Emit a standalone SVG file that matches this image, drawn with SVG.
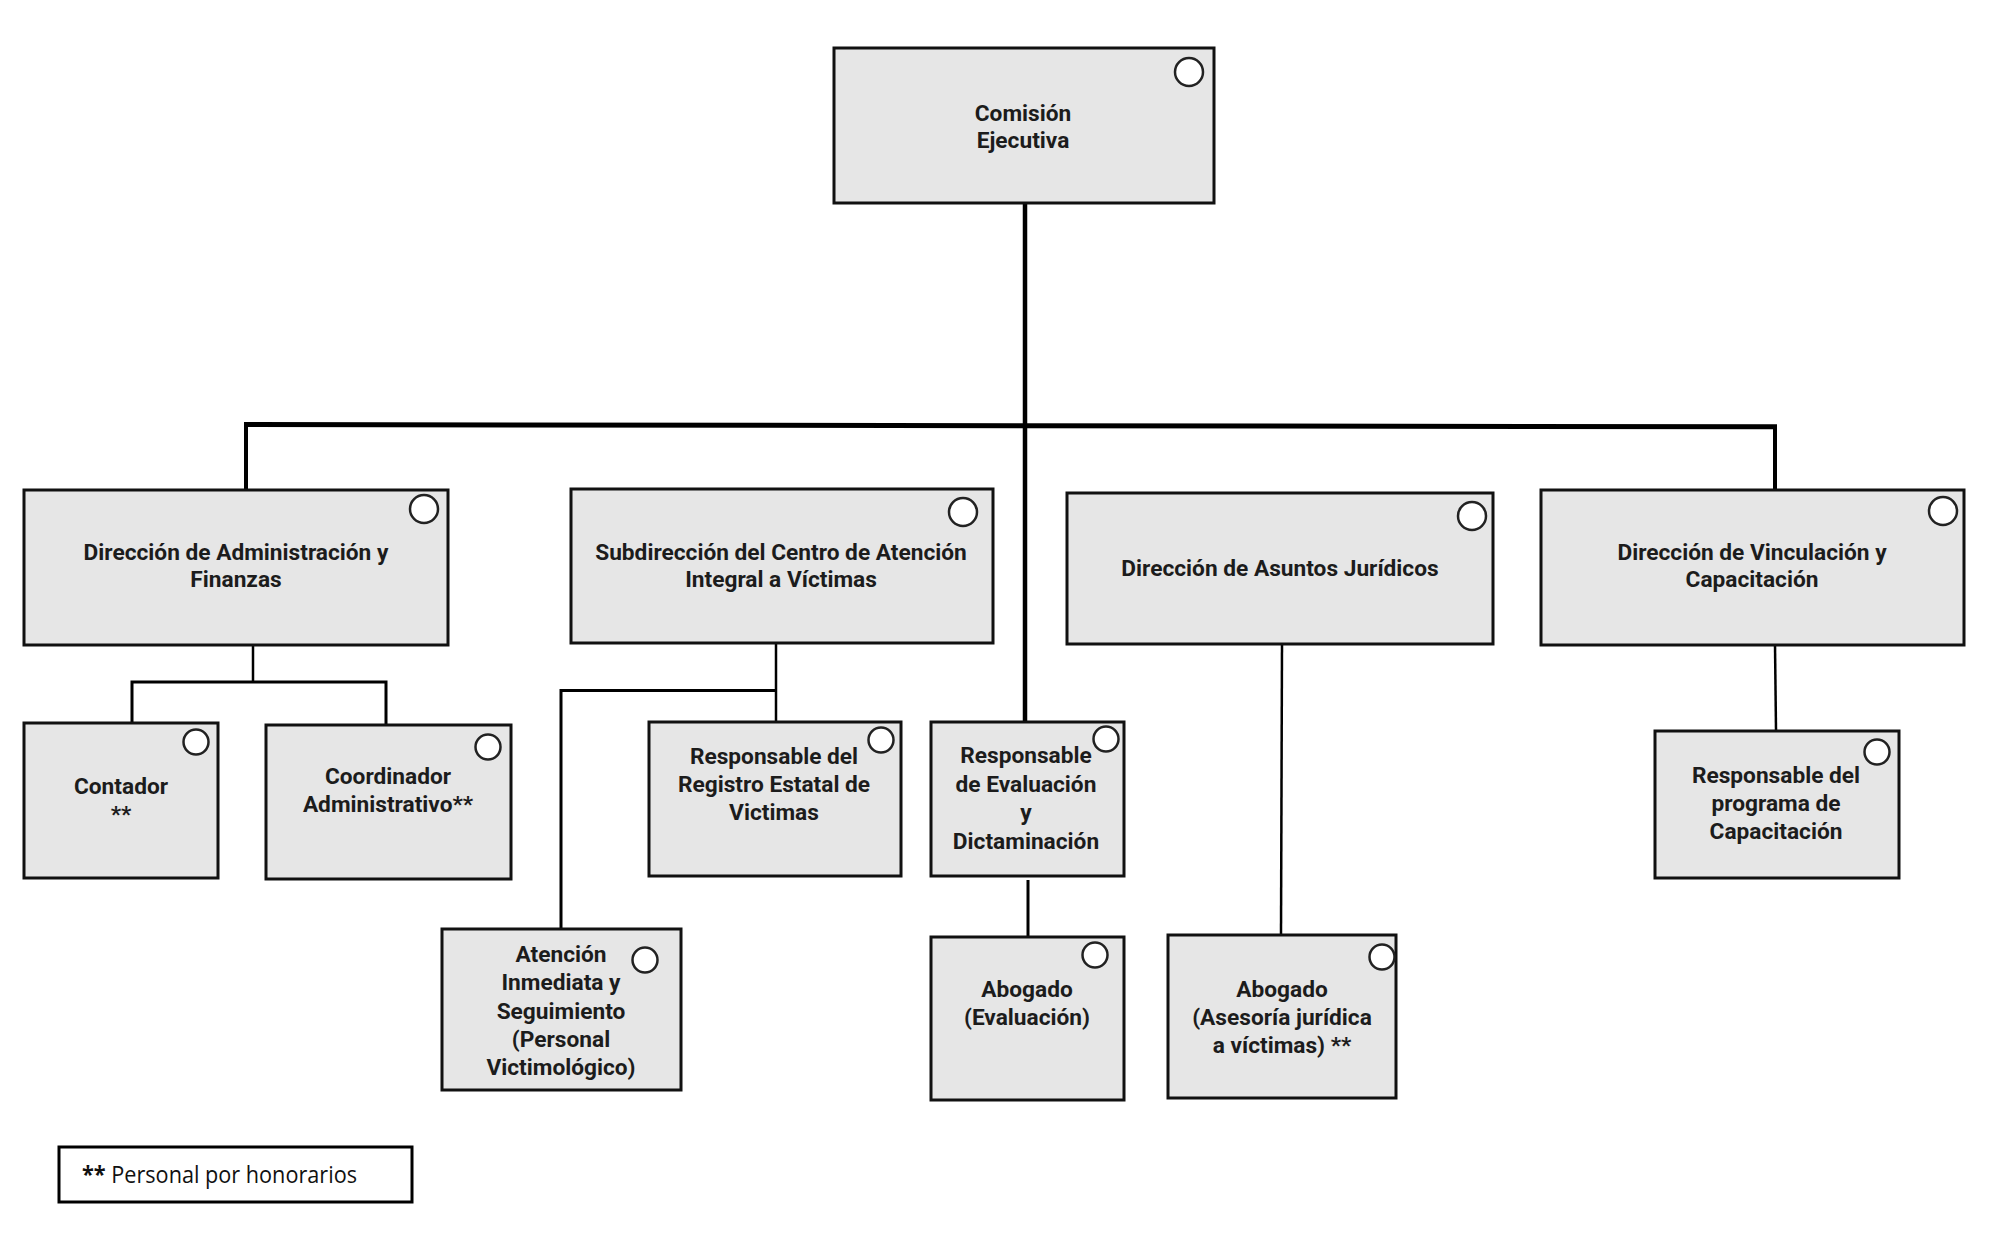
<svg xmlns="http://www.w3.org/2000/svg" width="1998" height="1236" viewBox="0 0 1998 1236">
<style>
.box{fill:#e6e6e6;stroke:#111;stroke-width:3}
.dot{fill:#fff;stroke:#222;stroke-width:2.5}
.t{font-family:Roboto,"Liberation Sans",sans-serif;font-weight:bold;font-size:22.7px;fill:#1c1c1c;text-anchor:middle}
.c{fill:none;stroke:#000;stroke-linecap:butt}
</style>
<rect width="1998" height="1236" fill="#fff"/>
<g id="connectors">
<line class="c" x1="1025" y1="203" x2="1025" y2="722" stroke-width="4.5"/>
<line class="c" x1="244" y1="424.5" x2="1777" y2="426.8" stroke-width="5"/>
<line class="c" x1="246" y1="424" x2="246" y2="489" stroke-width="4"/>
<line class="c" x1="1775" y1="426" x2="1775" y2="490" stroke-width="4"/>
<line class="c" x1="253" y1="645" x2="253" y2="682" stroke-width="2.5"/>
<polyline class="c" points="132,723 132,682 386,682 386,724" stroke-width="3"/>
<line class="c" x1="776" y1="643" x2="776" y2="722" stroke-width="2.5"/>
<polyline class="c" points="561,928 561,690.5 775,690.5" stroke-width="3"/>
<line class="c" x1="1028" y1="880" x2="1028" y2="937" stroke-width="3"/>
<line class="c" x1="1282" y1="644" x2="1281" y2="934" stroke-width="2.5"/>
<line class="c" x1="1775" y1="645" x2="1776" y2="730" stroke-width="2.5"/>
</g>
<g id="comision">
<rect class="box" x="834" y="48" width="380" height="155"/>
<circle class="dot" cx="1189" cy="72" r="14"/>
<text class="t" x="1023" y="121">Comisión</text>
<text class="t" x="1023" y="148">Ejecutiva</text>
</g>
<g id="dir-admin">
<rect class="box" x="24" y="490" width="424" height="155"/>
<circle class="dot" cx="424" cy="509" r="14"/>
<text class="t" x="236" y="560">Dirección de Administración y</text>
<text class="t" x="236" y="587">Finanzas</text>
</g>
<g id="subdir">
<rect class="box" x="571" y="489" width="422" height="154"/>
<circle class="dot" cx="963" cy="512" r="14"/>
<text class="t" x="781" y="560">Subdirección del Centro de Atención</text>
<text class="t" x="781" y="587">Integral a Víctimas</text>
</g>
<g id="dir-juridicos">
<rect class="box" x="1067" y="493" width="426" height="151"/>
<circle class="dot" cx="1472" cy="516" r="14"/>
<text class="t" x="1280" y="576">Dirección de Asuntos Jurídicos</text>
</g>
<g id="dir-vinculacion">
<rect class="box" x="1541" y="490" width="423" height="155"/>
<circle class="dot" cx="1943" cy="511" r="14"/>
<text class="t" x="1752" y="560">Dirección de Vinculación y</text>
<text class="t" x="1752" y="587">Capacitación</text>
</g>
<g id="contador">
<rect class="box" x="24" y="723" width="194" height="155"/>
<circle class="dot" cx="196" cy="742" r="12.5"/>
<text class="t" x="121" y="794">Contador</text>
<text class="t" x="121" y="822">**</text>
</g>
<g id="coordinador">
<rect class="box" x="266" y="725" width="245" height="154"/>
<circle class="dot" cx="488" cy="747" r="12.5"/>
<text class="t" x="388" y="784">Coordinador</text>
<text class="t" x="388" y="812">Administrativo**</text>
</g>
<g id="registro">
<rect class="box" x="649" y="722" width="252" height="154"/>
<circle class="dot" cx="881" cy="740" r="12.5"/>
<text class="t" x="774" y="764">Responsable del</text>
<text class="t" x="774" y="792">Registro Estatal de</text>
<text class="t" x="774" y="820">Victimas</text>
</g>
<g id="evaluacion">
<rect class="box" x="931" y="722" width="193" height="154"/>
<circle class="dot" cx="1106" cy="739" r="12.5"/>
<text class="t" x="1026" y="763">Responsable</text>
<text class="t" x="1026" y="792">de Evaluación</text>
<text class="t" x="1026" y="820">y</text>
<text class="t" x="1026" y="849">Dictaminación</text>
</g>
<g id="capacitacion">
<rect class="box" x="1655" y="731" width="244" height="147"/>
<circle class="dot" cx="1877" cy="752" r="12.5"/>
<text class="t" x="1776" y="783">Responsable del</text>
<text class="t" x="1776" y="811">programa de</text>
<text class="t" x="1776" y="839">Capacitación</text>
</g>
<g id="atencion">
<rect class="box" x="442" y="929" width="239" height="161"/>
<circle class="dot" cx="645" cy="960" r="12.5"/>
<text class="t" x="561" y="962">Atención</text>
<text class="t" x="561" y="990">Inmediata y</text>
<text class="t" x="561" y="1019">Seguimiento</text>
<text class="t" x="561" y="1047">(Personal</text>
<text class="t" x="561" y="1075">Victimológico)</text>
</g>
<g id="abogado-evaluacion">
<rect class="box" x="931" y="937" width="193" height="163"/>
<circle class="dot" cx="1095" cy="955" r="12.5"/>
<text class="t" x="1027" y="997">Abogado</text>
<text class="t" x="1027" y="1025">(Evaluación)</text>
</g>
<g id="abogado-asesoria">
<rect class="box" x="1168" y="935" width="228" height="163"/>
<circle class="dot" cx="1382" cy="957" r="12.5"/>
<text class="t" x="1282" y="997">Abogado</text>
<text class="t" x="1282" y="1025">(Asesoría jurídica</text>
<text class="t" x="1282" y="1053">a víctimas) **</text>
</g>
<g id="legend">
<rect x="59" y="1147" width="353" height="55" fill="#fff" stroke="#000" stroke-width="3"/>
<text x="82" y="1183" font-family="'Open Sans','Noto Sans',sans-serif" font-size="23" fill="#111" textLength="275" lengthAdjust="spacingAndGlyphs"><tspan font-weight="bold">**</tspan> Personal por honorarios</text>
</g>
</svg>
